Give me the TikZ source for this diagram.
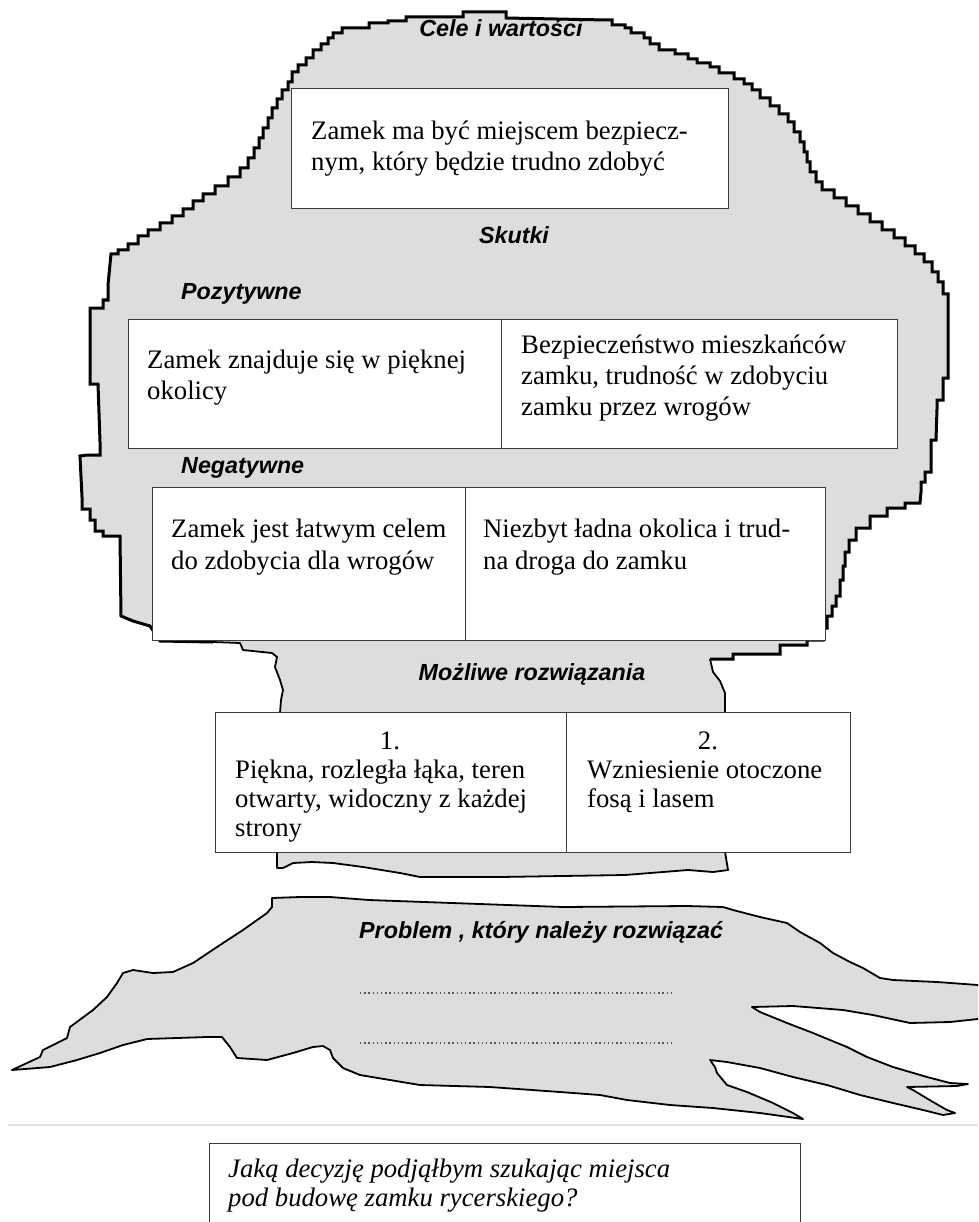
\documentclass[tikz,border=0pt]{standalone}
\usepackage{fontspec}
\setmainfont{Liberation Serif}
\setsansfont{Liberation Sans}
\definecolor{treegray}{RGB}{221,221,221}
\definecolor{boxline}{RGB}{60,60,60}
\definecolor{sepgray}{RGB}{226,226,226}
\newcommand\canopyline{(213,642) -- (160,641) -- (150,626) -- (133,621) -- (121,616) -- (120,536)
 -| (103,531) -| (95,520) -| (90,509) -| (82,497) -- (80,456) -- (87,455) -| (100,442) -- (98,384) -| (90,379) -- (90,308)
 -| (103,300) -| (108,285) -- (111,254) -| (118,250) -| (128,244) -| (138,236) -| (148,230) -| (160,223) -| (172,216)
 -| (183,209) -| (193,201) -| (203,194) -| (215,186) -| (228,177) -| (240,168) -| (248,158) -| (254,148) -| (259,138)
 -| (263,128) -| (268,118) -| (272,108) -| (277,99) -| (282,90) -| (288,82) -| (292,72) -| (298,65) -| (306,58)
 -| (313,50) -| (321,44) -| (328,38) -| (333,33) -| (342,28) -| (369,23) -| (388,21) -| (406,17) -- (463,17)
 -- (463,12) -- (506,12) -- (506,18) -- (606,20) -| (612,25) -| (625,28) -| (631,33) -| (644,38) -| (650,44)
 -| (659,50) -| (675,54) -| (688,59) -| (697,63) -| (710,67) -| (719,73) -| (734,79) -| (744,84) -| (752,90)
 -| (760,98) -| (770,106) -| (779,114) -| (788,122) -| (794,132) -| (800,142) -| (804,152) -| (807,162) -| (810,172)
 -| (816,182) -| (822,190) -| (834,198) -| (846,206) -| (858,214) -| (870,222) -| (882,230) -| (894,238) -| (905,246)
 -| (915,254) -| (924,262) -| (932,272) -| (938,282) -| (943,294) -| (948,307) -- (948,378) -| (943,387) -- (943,400)
 -| (937,409) -- (936,440) -| (931,448) -- (931,472) -| (925,482) -| (921,492) -- (920,503) -| (905,508) -| (887,516)
 -| (870,528) -| (856,540) -| (849,552) -| (845,566) -| (843,580) -| (840,596) -| (836,606) -| (832,616) -| (827,628)
 -| (823,640) -| (807,645) -| (780,654) -| (733,659) -- (710,659)}
\newcommand\trunkline{(710,659) -- (713,672) -- (720,681) -- (725,693) -- (725,852) -- (728,870) -- (713,872) -- (688,870)
 -- (625,875) -- (500,877) -- (420,877) -- (400,873) -- (363,867) -- (333,863) -- (312,862) -- (293,863) -- (283,868)
 -- (277,868) -- (277,852) -- (280,713) -- (281,700) -- (283,690) -- (280,680) -- (275,667) -- (277,657) -- (272,653)
 -- (243,650) -- (240,643) -- (213,642)}
\tikzset{
  cell/.style={draw=boxline, fill=white, line width=1.2pt, inner sep=0pt, anchor=north west},
  body/.style={font=\fontsize{26.7}{31}\selectfont, anchor=base west, inner sep=0pt},
  bodyc/.style={body, anchor=base},
  ital/.style={body, font=\fontsize{26.7}{31}\selectfont\itshape},
  lab/.style={font=\sffamily\bfseries\itshape\fontsize{23.3}{27}\selectfont, inner sep=0pt, anchor=base west},
  labc/.style={lab, anchor=base},
  dotline/.style={gray!70!black, line width=1.3pt, dash pattern=on 1.3pt off 2.9pt},
}
\begin{document}
\begin{tikzpicture}[x=1pt,y=-1pt]
\useasboundingbox (0,0) rectangle (978,1222);
\clip (0,0) rectangle (978,1222);
% tree crown and trunk
\fill[treegray] \canopyline -- (713,672) -- (720,681) -- (725,693) -- (725,852) -- (728,870) -- (713,872) -- (688,870)
 -- (625,875) -- (500,877) -- (420,877) -- (400,873) -- (363,867) -- (333,863) -- (312,862) -- (293,863) -- (283,868)
 -- (277,868) -- (277,852) -- (280,713) -- (281,700) -- (283,690) -- (280,680) -- (275,667) -- (277,657) -- (272,653)
 -- (243,650) -- (240,643) -- cycle;
\node[labc] (cele) at (501,37) {Cele i wartości};
\draw[line width=1.8pt, line join=round] \trunkline;
\draw[line width=3pt] \canopyline;
% roots
\filldraw[fill=treegray, draw=black, line width=1.8pt, line join=round]
 (272,898) -- (300,897) -- (330,897) -- (369,900) -- (563,907) -- (687,906) -- (723,907) -- (733,910) -- (760,917)
 -- (787,923) -- (800,932) -- (820,943) -- (833,953) -- (850,962) -- (863,968) -- (880,978) -- (893,980) -- (937,982)
 -- (978,985) -- (992,986) -- (992,1018) -- (978,1019) -- (950,1022) -- (910,1023) -- (873,1015) -- (843,1010)
 -- (793,1006) -- (752,1007) -- (760,1012) -- (787,1023) -- (813,1033) -- (847,1047) -- (867,1057) -- (893,1067)
 -- (927,1077) -- (950,1083) -- (968,1084) -- (957,1086) -- (907,1087) -- (913,1090) -- (933,1102) -- (947,1110)
 -- (955,1113) -- (943,1115) -- (923,1110) -- (893,1103) -- (860,1095) -- (827,1085) -- (793,1077) -- (760,1068)
 -- (727,1062) -- (710,1060) -- (715,1067) -- (717,1073) -- (727,1085) -- (747,1092) -- (773,1103) -- (793,1113)
 -- (803,1119) -- (760,1113) -- (713,1108) -- (670,1105) -- (627,1100) -- (600,1095) -- (560,1092) -- (490,1087)
 -- (420,1085) -- (390,1080) -- (360,1075) -- (343,1068) -- (333,1058) -- (330,1050) -- (323,1046) -- (313,1047)
 -- (293,1053) -- (267,1060) -- (237,1058) -- (230,1047) -- (222,1037) -- (207,1037) -- (147,1039) -- (123,1045)
 -- (100,1053) -- (77,1060) -- (50,1067) -- (12,1070) -- (27,1063) -- (40,1057) -- (43,1050) -- (67,1038)
 -- (70,1027) -- (93,1010) -- (107,997) -- (117,983) -- (123,973) -- (133,970) -- (153,973) -- (173,972)
 -- (193,963) -- (220,945) -- (243,930) -- (267,913) -- (272,907) -- cycle;
% separator
\coordinate (sepL) at (8,1125);
\coordinate (sepR) at (978,1125);
\draw[sepgray, line width=2pt] (sepL) -- (sepR);
% boxes
\node[cell, minimum width=437pt, minimum height=120pt] (goal) at (291,88) {};
\node[cell, minimum width=373pt, minimum height=129pt] (posL) at (128,319) {};
\node[cell, minimum width=396pt, minimum height=129pt] (posR) at (501,319) {};
\node[cell, minimum width=313pt, minimum height=153pt] (negL) at (152,487) {};
\node[cell, minimum width=360pt, minimum height=153pt] (negR) at (465,487) {};
\node[cell, minimum width=351pt, minimum height=140pt] (solL) at (215,712) {};
\node[cell, minimum width=284pt, minimum height=140pt] (solR) at (566,712) {};
\node[cell, minimum width=591pt, minimum height=130pt] (quest) at (209,1143) {};
% box texts
\node[body] (g1) at (311,140) {Zamek ma być miejscem bezpiecz-};
\node[body] (g2) at (311,171) {nym, który będzie trudno zdobyć};
\node[body] (pl1) at (147,368) {Zamek znajduje się w pięknej};
\node[body] (pl2) at (147,399) {okolicy};
\node[body] (pr1) at (521,353) {Bezpieczeństwo mieszkańców};
\node[body] (pr2) at (521,384) {zamku, trudność w zdobyciu};
\node[body] (pr3) at (521,415) {zamku przez wrogów};
\node[body] (nl1) at (171,537) {Zamek jest łatwym celem};
\node[body] (nl2) at (171,569) {do zdobycia dla wrogów};
\node[body] (nr1) at (483,537) {Niezbyt ładna okolica i trud-};
\node[body] (nr2) at (483,569) {na droga do zamku};
\node[bodyc] (sl0) at (390,749) {1.};
\node[body] (sl1) at (235,778) {Piękna, rozległa łąka, teren};
\node[body] (sl2) at (235,807) {otwarty, widoczny z każdej};
\node[body] (sl3) at (235,836) {strony};
\node[bodyc] (sr0) at (708,749) {2.};
\node[body] (sr1) at (587,778) {Wzniesienie otoczone};
\node[body] (sr2) at (587,807) {fosą i lasem};
\node[ital] (q1) at (228,1177) {Jaką decyzję podjąłbym szukając miejsca};
\node[ital] (q2) at (228,1206) {pod budowę zamku rycerskiego?};
% labels
\node[labc] (skutki) at (514,244) {Skutki};
\node[lab] (pozyt) at (181,300) {Pozytywne};
\node[lab] (negat) at (181,473) {Negatywne};
\node[labc] (mozl) at (532,680) {Możliwe rozwiązania};
\node[lab] (probl) at (359,938) {Problem , który należy rozwiązać};
% dotted lines
\coordinate (d1a) at (360,993);
\coordinate (d1b) at (672,993);
\coordinate (d2a) at (360,1043);
\coordinate (d2b) at (672,1043);
\draw[dotline] (d1a) -- (d1b);
\draw[dotline] (d2a) -- (d2b);
\end{tikzpicture}
\end{document}
